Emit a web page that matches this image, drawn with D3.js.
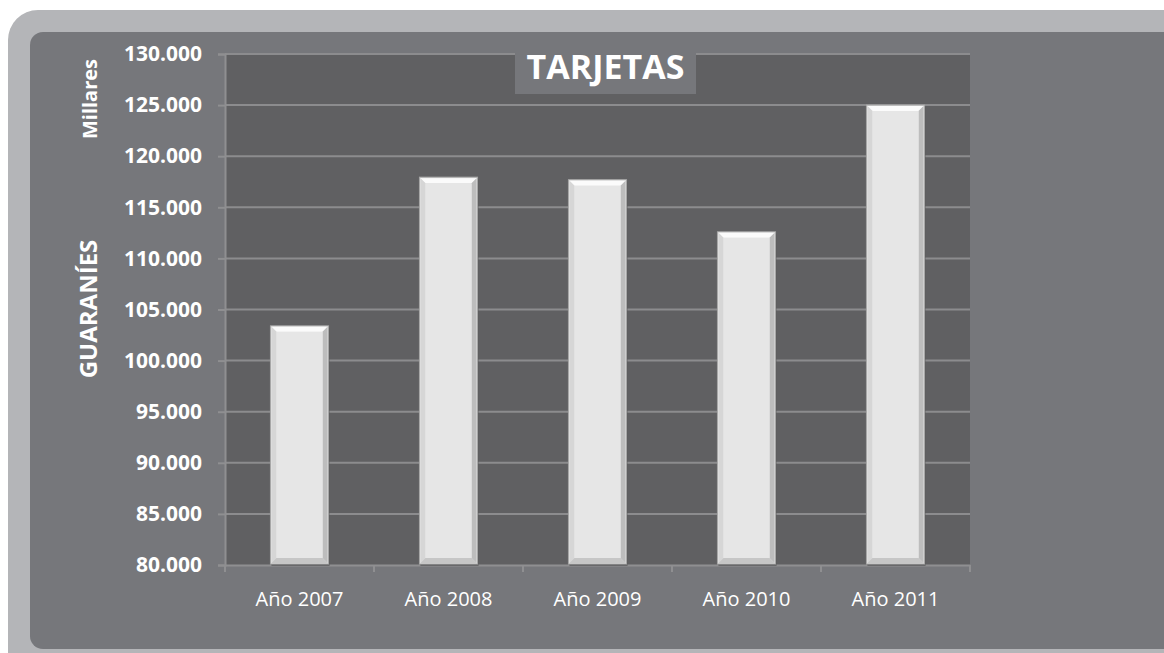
<!DOCTYPE html>
<html>
<head>
<meta charset="utf-8">
<script src="https://cdn.jsdelivr.net/npm/d3@7"></script>
<style>
  body { margin: 0; background: #ffffff; }
  svg { display: block; }
  text { font-family: "Open Sans", "DejaVu Sans", sans-serif; fill: #ffffff; }
</style>
</head>
<body>
<svg id="chart" width="1164" height="653"></svg>
<script>
// data (miles de guaraníes)
var years = ["Año 2007", "Año 2008", "Año 2009", "Año 2010", "Año 2011"];
var values = [103400, 117950, 117700, 112600, 125000];
var yTicks = [80000, 85000, 90000, 95000, 100000, 105000, 110000, 115000, 120000, 125000, 130000];

chart();

function chart() {
    var svg = d3.select("#chart");
    var plot = { left: 225, right: 970, top: 54, bottom: 565 };

    //background panels
    svg.append("rect")
        .attr("x", 8).attr("y", 10)
        .attr("width", 1200).attr("height", 700)
        .attr("rx", 30).attr("ry", 30)
        .attr("fill", "#b4b5b8");
    svg.append("rect")
        .attr("x", 30).attr("y", 32)
        .attr("width", 1200).attr("height", 617)
        .attr("rx", 13).attr("ry", 13)
        .attr("fill", "#76777b");

    //plot area
    svg.append("rect")
        .attr("x", plot.left).attr("y", plot.top)
        .attr("width", plot.right - plot.left).attr("height", plot.bottom - plot.top)
        .attr("fill", "#606062");

    var x = d3.scaleBand()
        .domain(years)
        .range([plot.left, plot.right])
        .paddingInner(0.61)
        .paddingOuter(0.305);

    var y = d3.scaleLinear()
        .domain([80000, 130000])
        .range([plot.bottom, plot.top]);

    var fmt = function(v) { return d3.format(",")(v).replace(/,/g, "."); };

    //gridlines
    svg.append("g")
        .selectAll("line")
        .data(yTicks.slice(1))
        .enter().append("line")
        .attr("x1", plot.left).attr("x2", plot.right)
        .attr("y1", function(d) { return y(d); })
        .attr("y2", function(d) { return y(d); })
        .attr("stroke", "#8c8c8e")
        .attr("stroke-width", 2);

    //y axis
    var yAxis = d3.axisLeft(y).tickValues(yTicks).tickSize(7).tickPadding(16).tickFormat(fmt);
    var gy = svg.append("g")
        .attr("transform", "translate(" + plot.left + ",0)")
        .call(yAxis);
    gy.select(".domain").attr("stroke", "#8f8f91").attr("stroke-width", 2);
    gy.selectAll(".tick line").attr("stroke", "#8f8f91").attr("stroke-width", 2);
    gy.selectAll(".tick text")
        .style("font-size", "21px")
        .style("font-weight", "bold")
        .attr("fill", "#ffffff");

    //x axis
    var xAxis = d3.axisBottom(x).tickSize(0).tickPadding(27);
    var gx = svg.append("g")
        .attr("transform", "translate(0," + plot.bottom + ")")
        .call(xAxis);
    gx.select(".domain").attr("stroke", "#8f8f91").attr("stroke-width", 2);
    gx.selectAll(".tick text")
        .style("font-size", "20px")
        .attr("fill", "#ffffff");
    //category boundary ticks
    var step = x.step();
    svg.append("g")
        .selectAll("line")
        .data(d3.range(years.length + 1))
        .enter().append("line")
        .attr("x1", function(i) { return plot.left + i * step; })
        .attr("x2", function(i) { return plot.left + i * step; })
        .attr("y1", plot.bottom).attr("y2", plot.bottom + 7)
        .attr("stroke", "#8f8f91")
        .attr("stroke-width", 2);

    //bars with bevel
    var b = 5;
    var bars = svg.append("g").selectAll("g")
        .data(values)
        .enter().append("g")
        .attr("transform", function(d, i) { return "translate(" + x(years[i]) + "," + y(d) + ")"; });
    var bw = x.bandwidth();
    bars.append("rect")
        .attr("x", 1).attr("y", 2)
        .attr("width", bw).attr("height", function(d) { return plot.bottom - y(d) - 1; })
        .attr("fill", "#4e4e50")
        .attr("opacity", 0.6);
    bars.append("rect")
        .attr("width", bw).attr("height", function(d) { return plot.bottom - y(d) - 1; })
        .attr("fill", "#e4e4e4")
        .attr("stroke", "#a8a8a8")
        .attr("stroke-width", 1);
    //top bevel
    bars.append("path")
        .attr("d", "M1,1 L" + (bw - 1) + ",1 L" + (bw - 1 - b) + "," + (1 + b) + " L" + (1 + b) + "," + (1 + b) + "Z")
        .attr("fill", "#fbfbfb");
    //left bevel
    bars.append("path")
        .attr("d", function(d) {
            var h = plot.bottom - y(d) - 2;
            return "M1,1 L" + (1 + b) + "," + (1 + b) + " L" + (1 + b) + "," + (h - b) + " L1," + h + "Z";
        })
        .attr("fill", "#d6d6d6");
    //right bevel
    bars.append("path")
        .attr("d", function(d) {
            var h = plot.bottom - y(d) - 2;
            return "M" + (bw - 1) + ",1 L" + (bw - 1 - b) + "," + (1 + b) + " L" + (bw - 1 - b) + "," + (h - b) + " L" + (bw - 1) + "," + h + "Z";
        })
        .attr("fill", "#bdbdbd");
    //bottom bevel
    bars.append("path")
        .attr("d", function(d) {
            var h = plot.bottom - y(d) - 2;
            return "M1," + h + " L" + (1 + b) + "," + (h - b) + " L" + (bw - 1 - b) + "," + (h - b) + " L" + (bw - 1) + "," + h + "Z";
        })
        .attr("fill", "#c6c6c6");
    //inner face
    bars.append("rect")
        .attr("x", 1 + b).attr("y", 1 + b)
        .attr("width", bw - 2 - 2 * b)
        .attr("height", function(d) { return plot.bottom - y(d) - 3 - 2 * b; })
        .attr("fill", "#e6e6e6");

    //title
    svg.append("rect")
        .attr("x", 515).attr("y", 40)
        .attr("width", 181).attr("height", 54)
        .attr("fill", "#76777b");
    svg.append("text")
        .attr("x", 605.5).attr("y", 79)
        .attr("text-anchor", "middle")
        .style("font-size", "34px")
        .style("font-weight", "bold")
        .text("TARJETAS");

    //axis titles
    svg.append("text")
        .attr("transform", "translate(97,309) rotate(-90)")
        .attr("text-anchor", "middle")
        .style("font-size", "24px")
        .style("font-weight", "bold")
        .text("GUARANÍES");
    svg.append("text")
        .attr("transform", "translate(97,99) rotate(-90)")
        .attr("text-anchor", "middle")
        .style("font-size", "20px")
        .style("font-weight", "bold")
        .text("Millares");
}
</script>
</body>
</html>
